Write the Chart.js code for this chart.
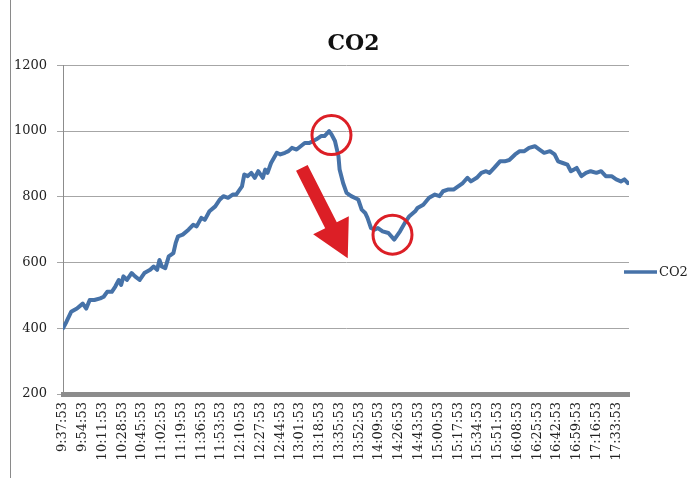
<!DOCTYPE html>
<html>
<head>
<meta charset="utf-8">
<script src="https://cdn.jsdelivr.net/npm/chart.js@4"></script>
<style>
  html, body { margin: 0; padding: 0; background: #fff; }
  canvas { display: block; }
</style>
</head>
<body>
<canvas id="c" width="697" height="478"></canvas>
<script>
// ---- data (minutes after 9:37:53, CO2 ppm) ----
const seriesName = 'CO2';
const minutes = [0,3,7,12,17,20,23,27,32,35,38,42,45,48,50,52,55,59,62,66,70,75,78,81,83,85,88,91,95,97,99,103,108,112,115,119,122,126,131,135,138,142,146,149,154,156,159,162,165,168,172,174,176,179,184,187,191,194,197,201,208,212,218,222,225,229,231,234,237,238,241,244,248,254,257,260,262,265,268,271,275,280,285,290,294,298,303,305,310,315,320,324,327,331,336,340,344,348,351,356,360,364,367,371,376,380,384,389,393,397,401,406,410,414,419,423,426,430,434,437,442,446,450,454,459,463,467,472,476,480,483,486];
const co2 = [400,420,450,460,475,460,486,486,491,496,511,511,527,547,532,558,547,568,558,547,568,578,588,578,608,588,583,619,629,660,680,685,700,715,710,736,730,756,771,792,802,797,807,807,832,868,863,873,858,878,858,883,873,903,934,929,934,939,949,944,964,964,975,985,985,1000,990,970,924,883,842,812,802,792,761,751,736,705,700,705,695,690,670,695,720,741,756,766,776,797,807,802,817,822,822,832,842,858,847,858,873,878,873,888,908,908,912,929,939,939,949,954,944,934,939,929,908,903,898,878,888,863,873,878,873,878,863,863,853,847,853,842];
const tickLabels = ['9:37:53','9:54:53','10:11:53','10:28:53','10:45:53','11:02:53','11:19:53','11:36:53','11:53:53','12:10:53','12:27:53','12:44:53','13:01:53','13:18:53','13:35:53','13:52:53','14:09:53','14:26:53','14:43:53','15:00:53','15:17:53','15:34:53','15:51:53','16:08:53','16:25:53','16:42:53','16:59:53','17:16:53','17:33:53'];
const yTicks = [200, 400, 600, 800, 1000, 1200];
const lastMinute = 487;

// annotations (data coordinates)
const circles = [{x: 231, y: 988}, {x: 283.5, y: 685}];
const arrow = {x1: 205.5, y1: 888, x2: 245, y2: 613};

function toMin(s) { const p = s.split(':').map(Number); return p[0]*60 + p[1] + p[2]/60; }
const tickMinutes = tickLabels.map(l => toMin(l) - toMin(tickLabels[0]));
const points = minutes.map((m, i) => ({x: m, y: co2[i]}));

const SERIF = "'DejaVu Serif', serif";
const LINE_COLOR = '#4672a8';
const RED = '#dc1f26';

const decorPlugin = {
  id: 'decor',
  beforeDraw(chart) {
    const ctx = chart.ctx;
    ctx.save();
    ctx.fillStyle = '#fff';
    ctx.fillRect(0, 0, chart.width, chart.height);
    ctx.strokeStyle = '#8a8a8a';
    ctx.lineWidth = 1;
    ctx.beginPath();
    ctx.moveTo(10.5, 0);
    ctx.lineTo(10.5, chart.height);
    ctx.stroke();
    ctx.restore();
  },
  afterDatasetsDraw(chart) {
    const ctx = chart.ctx;
    const xs = chart.scales.x, ys = chart.scales.y;
    ctx.save();
    ctx.strokeStyle = RED;
    ctx.lineWidth = 3;
    circles.forEach(c => {
      ctx.beginPath();
      ctx.arc(xs.getPixelForValue(c.x), ys.getPixelForValue(c.y), 19.5, 0, Math.PI * 2);
      ctx.stroke();
    });
    const sx = xs.getPixelForValue(arrow.x1), sy = ys.getPixelForValue(arrow.y1);
    const ex = xs.getPixelForValue(arrow.x2), ey = ys.getPixelForValue(arrow.y2);
    const dx = ex - sx, dy = ey - sy, len = Math.hypot(dx, dy);
    const ux = dx / len, uy = dy / len, nx = -uy, ny = ux;
    const headLen = 37, headHalf = 20, shaftHalf = 6.5;
    const bx = ex - ux * headLen, by = ey - uy * headLen;
    ctx.fillStyle = RED;
    ctx.beginPath();
    ctx.moveTo(sx + nx * shaftHalf, sy + ny * shaftHalf);
    ctx.lineTo(bx + nx * shaftHalf, by + ny * shaftHalf);
    ctx.lineTo(bx + nx * headHalf, by + ny * headHalf);
    ctx.lineTo(ex, ey);
    ctx.lineTo(bx - nx * headHalf, by - ny * headHalf);
    ctx.lineTo(bx - nx * shaftHalf, by - ny * shaftHalf);
    ctx.lineTo(sx - nx * shaftHalf, sy - ny * shaftHalf);
    ctx.closePath();
    ctx.fill();
    ctx.restore();
  },
  afterDraw(chart) {
    const ctx = chart.ctx;
    const ds = chart.data.datasets[0];
    const lx = chart.chartArea.right - 5, ly = 272;
    ctx.save();
    ctx.strokeStyle = ds.borderColor;
    ctx.lineWidth = 3.5;
    ctx.beginPath();
    ctx.moveTo(lx, ly);
    ctx.lineTo(lx + 33, ly);
    ctx.stroke();
    ctx.fillStyle = '#222';
    ctx.font = "13px " + SERIF;
    ctx.textBaseline = 'middle';
    ctx.textAlign = 'left';
    ctx.fillText(ds.label, lx + 35, ly + 1);
    ctx.restore();
  }
};

new Chart(document.getElementById('c'), {
  type: 'line',
  data: {
    datasets: [{
      label: seriesName,
      data: points,
      borderColor: LINE_COLOR,
      borderWidth: 4,
      borderJoinStyle: 'round',
      borderCapStyle: 'round',
      pointRadius: 0,
      tension: 0,
      fill: false
    }]
  },
  options: {
    responsive: false,
    animation: false,
    events: [],
    layout: { padding: { left: 10, right: 0, top: 0, bottom: 0 } },
    plugins: {
      legend: { display: false },
      tooltip: { enabled: false },
      title: {
        display: true,
        text: seriesName,
        color: '#111',
        font: { family: SERIF, size: 22, weight: 'bold' },
        padding: { top: 31, bottom: 8 }
      }
    },
    scales: {
      x: {
        type: 'linear',
        min: 0,
        max: lastMinute,
        afterBuildTicks(scale) { scale.ticks = tickMinutes.map(v => ({value: v})); },
        afterFit(scale) { scale.height = 84; },
        grid: { display: false, drawTicks: false },
        border: { display: true, color: '#8c8c8c', width: 5 },
        ticks: {
          autoSkip: false,
          minRotation: 90,
          maxRotation: 90,
          padding: 8,
          color: '#222',
          font: { family: SERIF, size: 13 },
          callback: (v, i) => tickLabels[i]
        }
      },
      y: {
        min: 200,
        max: 1200,
        afterBuildTicks(scale) { scale.ticks = yTicks.map(v => ({value: v})); },
        afterFit(scale) { scale.width = 53; },
        grid: { color: '#a6a6a6', lineWidth: 1, drawTicks: true, tickLength: 6 },
        border: { display: true, color: '#8c8c8c', width: 1 },
        ticks: {
          padding: 10,
          color: '#222',
          font: { family: SERIF, size: 13 },
          callback: v => String(v)
        }
      },
      legendSpace: {
        type: 'linear',
        position: 'right',
        display: true,
        afterFit(scale) { scale.width = 68; },
        grid: { display: false, drawTicks: false },
        border: { display: false },
        ticks: { display: false }
      }
    }
  },
  plugins: [decorPlugin]
});
</script>
</body>
</html>
